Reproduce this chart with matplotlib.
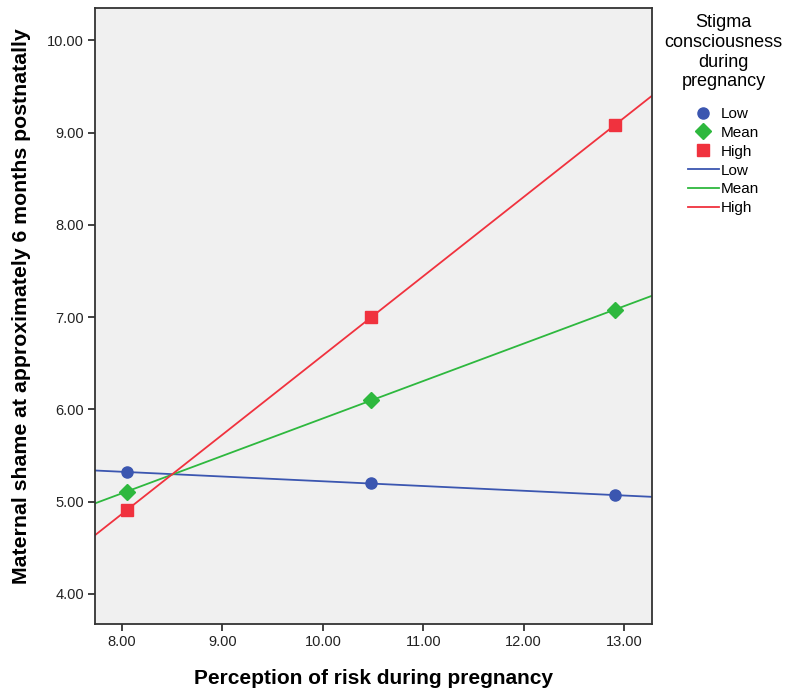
import numpy as np
import matplotlib
matplotlib.use("Agg")
import matplotlib.pyplot as plt
from matplotlib.lines import Line2D

plt.rcParams['font.family'] = ['Liberation Sans', 'DejaVu Sans']

# 数据
risk = [8.05, 10.48, 12.91]
groups = ['Low', 'Mean', 'High']
shame_low = [5.32, 5.20, 5.07]
shame_mean = [5.11, 6.10, 7.08]
shame_high = [4.91, 7.00, 9.08]
yticks = [4.0, 5.0, 6.0, 7.0, 8.0, 9.0, 10.0]
xticks = [8.0, 9.0, 10.0, 11.0, 12.0, 13.0]

colors = ['#3b56b0', '#2eb83e', '#f0323e']
markers = ['o', 'D', 's']
msizes = [8, 8, 8]

fig = plt.figure(figsize=(7.89, 6.93), dpi=100)
ax = fig.add_axes([0.1204, 0.0996, 0.7060, 0.8889])
ax.set_facecolor('#f0f0f0')

xlim = (7.73, 13.28)
xx = np.array(xlim)
for vals, c, m, ms in zip([shame_low, shame_mean, shame_high], colors, markers, msizes):
    k, b = np.polyfit(risk, vals, 1)
    ax.plot(xx, k * xx + b, color=c, lw=1.3, zorder=2)
    ax.plot(risk, vals, linestyle='none', marker=m, color=c, markersize=ms,
            markeredgecolor=c, zorder=3)

ax.set_xlim(*xlim)
ax.set_ylim(3.675, 10.35)
ax.set_xticks(xticks)
ax.set_xticklabels(['%.2f' % t for t in xticks])
ax.set_yticks(yticks)
ax.set_yticklabels(['%.2f' % t for t in yticks])
ax.tick_params(direction='out', length=5, width=1.3, color='#333333',
               labelsize=10.5, labelcolor='#222222', pad=3)
for s in ax.spines.values():
    s.set_color('#333333')
    s.set_linewidth(1.3)

ax.set_xlabel('Perception of risk during pregnancy', fontsize=15,
              fontweight='bold', labelpad=14)
ax.set_ylabel('Maternal shame at approximately 6 months postnatally', fontsize=15.3,
              fontweight='bold')
ax.yaxis.set_label_coords(-0.115, 0.516)

# 图例
handles = []
labels = []
for g, c, m in zip(groups, colors, markers):
    handles.append(Line2D([], [], linestyle='none', marker=m, color=c, markersize=8))
    labels.append(g)
for g, c in zip(groups, colors):
    handles.append(Line2D([], [], color=c, lw=1.3))
    labels.append(g)
leg = fig.legend(handles, labels, title='Stigma\nconsciousness\nduring\npregnancy',
                 loc='upper center', bbox_to_anchor=(0.917, 0.988), frameon=False,
                 fontsize=11, title_fontsize=13, handlelength=2.0,
                 handletextpad=0.15, labelspacing=0.32, borderaxespad=0)
leg.get_title().set_multialignment('center')
leg.get_title().set_linespacing(1.2)
leg._legend_box.sep = 12

fig.savefig('out.png', dpi=100)
